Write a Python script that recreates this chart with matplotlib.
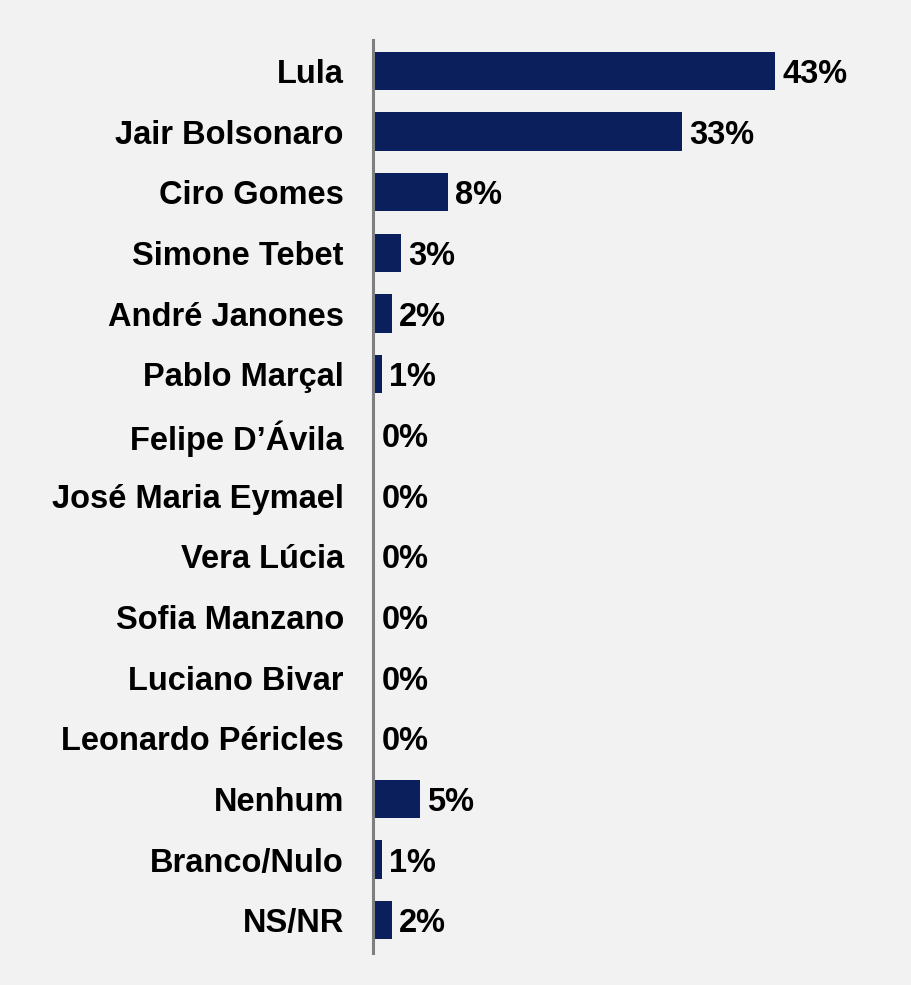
import matplotlib.pyplot as plt

candidates = ['Lula', 'Jair Bolsonaro', 'Ciro Gomes', 'Simone Tebet', 'André Janones',
              'Pablo Marçal', 'Felipe D’Ávila', 'José Maria Eymael', 'Vera Lúcia',
              'Sofia Manzano', 'Luciano Bivar', 'Leonardo Péricles', 'Nenhum',
              'Branco/Nulo', 'NS/NR']
values = [43, 33, 8, 3, 2, 1, 0, 0, 0, 0, 0, 0, 5, 1, 2]

bg = '#f2f2f2'
bar_color = '#0b1f5c'

plt.rcParams['font.family'] = ['Liberation Sans', 'DejaVu Sans']

fig = plt.figure(figsize=(9.11, 9.85), dpi=100)
fig.patch.set_facecolor(bg)
ax = fig.add_axes([373 / 911, 1 - 953 / 985, 1 - 373 / 911 - 0.005, (953 - 40) / 985])
ax.set_facecolor(bg)

pos = list(range(len(candidates)))
ax.barh(pos, values, height=0.63, color=bar_color, zorder=2)
ax.set_ylim(len(candidates) - 0.46, -0.51)
ax.set_xlim(0, 57)

for y, v in zip(pos, values):
    ax.annotate(f'{v}%', (v, y), xytext=(7 if v else 9, 0), textcoords='offset pixels',
                va='center_baseline', ha='left', fontsize=23.5, fontweight='bold', color='black')

ax.set_yticks(pos)
ax.set_yticklabels(candidates, fontsize=23.5, fontweight='bold', va='center_baseline')
ax.tick_params(axis='y', length=0, pad=21)
ax.set_xticks([])

for s in ['top', 'right', 'bottom']:
    ax.spines[s].set_visible(False)
ax.spines['left'].set_color('#7f7f7f')
ax.spines['left'].set_linewidth(2.2)
ax.spines['left'].set_zorder(3)

fig.savefig('out.png', dpi=100, facecolor=bg)
